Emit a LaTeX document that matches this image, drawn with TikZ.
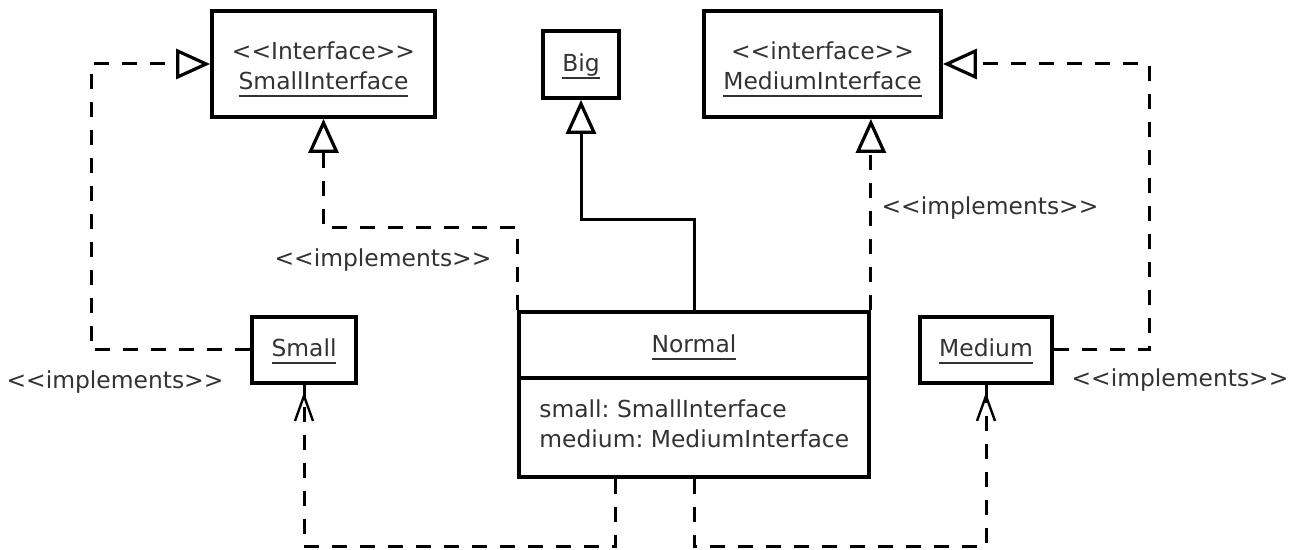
\documentclass[tikz,border=0pt]{standalone}
\usepackage{fontspec}
\newfontfamily\umlfont{DejaVu Sans}
\usetikzlibrary{arrows.meta}
% underlined class name: a thin rule a little below the baseline
\newcommand\umlul[1]{\setbox0\hbox{#1}\rlap{\rule[-0.28em]{\wd0}{0.07em}}\box0}

\begin{document}
\begin{tikzpicture}[x=0.5pt,y=-0.5pt,
  every node/.style={font=\umlfont\fontsize{11.7}{15}\selectfont\frenchspacing, text=black!80, inner sep=0pt},
  classbox/.style={draw=black, line width=1.9pt, fill=white},
  txt/.style={anchor=base},
  dashline/.style={draw=black, line width=1.5pt, dash pattern=on 7.5pt off 6.5pt},
  realize/.style={dashline, -{Triangle[open, length=17pt, width=15pt, line width=1.6pt]}},
  inherit/.style={draw=black, line width=1.5pt, -{Triangle[open, length=17pt, width=15pt, line width=1.6pt]}},
  barb/.style={draw=black, line width=1.2pt, line join=miter}
]
  \path[fill=white] (0,0) rectangle (1298,550);
  \useasboundingbox (0,0) rectangle (1298,550);

  % classes and interfaces
  \node[classbox, minimum width=111.5pt, minimum height=53pt] (si) at (323.5,64) {};
  \node[txt] (sist) at (323.5,60) {<<Interface>>};
  \node[txt] (sinm) at (323.5,90) {\umlul{SmallInterface}};

  \node[classbox, minimum width=38pt, minimum height=33.5pt] (big) at (581,64.5) {};
  \node[txt] (bignm) at (581,72) {\umlul{Big}};

  \node[classbox, minimum width=118.5pt, minimum height=53pt] (mi) at (822.5,64) {};
  \node[txt] (mist) at (822.5,60) {<<interface>>};
  \node[txt] (minm) at (822.5,90) {\umlul{MediumInterface}};

  \node[classbox, minimum width=52pt, minimum height=33pt] (sm) at (304,350) {};
  \node[txt] (smnm) at (304,357) {\umlul{Small}};

  \node[classbox, minimum width=66pt, minimum height=33pt] (md) at (986,350) {};
  \node[txt] (mdnm) at (986,357) {\umlul{Medium}};

  % Normal: name compartment over attribute compartment
  \node[classbox, minimum width=175pt, minimum height=82.5pt] (nm) at (694,394.5) {};
  \coordinate (divy) at (0,378);
  \draw[line width=1.9pt] (nm.west |- divy) -- (nm.east |- divy);
  \node[txt] (nmname) at (694,353) {\umlul{Normal}};
  \node[anchor=base west] (nmattr1) at (539,418) {small: SmallInterface};
  \node[anchor=base west] (nmattr2) at (539,448) {medium: MediumInterface};

  % bend points
  \coordinate (lbend) at (91,64);
  \coordinate (rbend) at (1149,64);
  \coordinate (ysi) at (0,228);
  \coordinate (ybig) at (0,220);
  \coordinate (ybot) at (0,547);
  \coordinate (fx) at (615,0);

  % realizations and generalization
  \draw[realize] (sm.west) -| (lbend) -- (si.west);
  \draw[realize] (nm.north west) -- (nm.north west |- ysi) -| (si.south);
  \draw[inherit] (nm.north) -- (nm.north |- ybig) -| (big.south);
  \draw[realize] (nm.north east) -- (nm.north east |- mi.south);
  \draw[realize] (md.east) -| (rbend) -- (mi.east);

  % dependencies: the line runs up to the box, the open barb sits just below it
  \draw[dashline] (nm.south -| fx) -- (fx |- ybot) -| (sm.south);
  \draw[dashline] (nm.south) -- (nm.south |- ybot) -| (md.south);
  \draw[barb] ([xshift=-4.5pt,yshift=-18pt]sm.south) -- ([yshift=-5.5pt]sm.south)
              -- ([xshift=4.5pt,yshift=-18pt]sm.south);
  \draw[barb] ([xshift=-4.5pt,yshift=-18pt]md.south) -- ([yshift=-5.5pt]md.south)
              -- ([xshift=4.5pt,yshift=-18pt]md.south);
  \draw[line width=1.5pt] (sm.south) -- ([yshift=-6pt]sm.south);
  \draw[line width=1.5pt] (md.south) -- ([yshift=-6pt]md.south);

  % stereotype labels
  \node (lab1) at (115,382) {<<implements>>};
  \node (lab2) at (383,260) {<<implements>>};
  \node (lab3) at (990,208) {<<implements>>};
  \node (lab4) at (1180,380) {<<implements>>};
\end{tikzpicture}
\end{document}
